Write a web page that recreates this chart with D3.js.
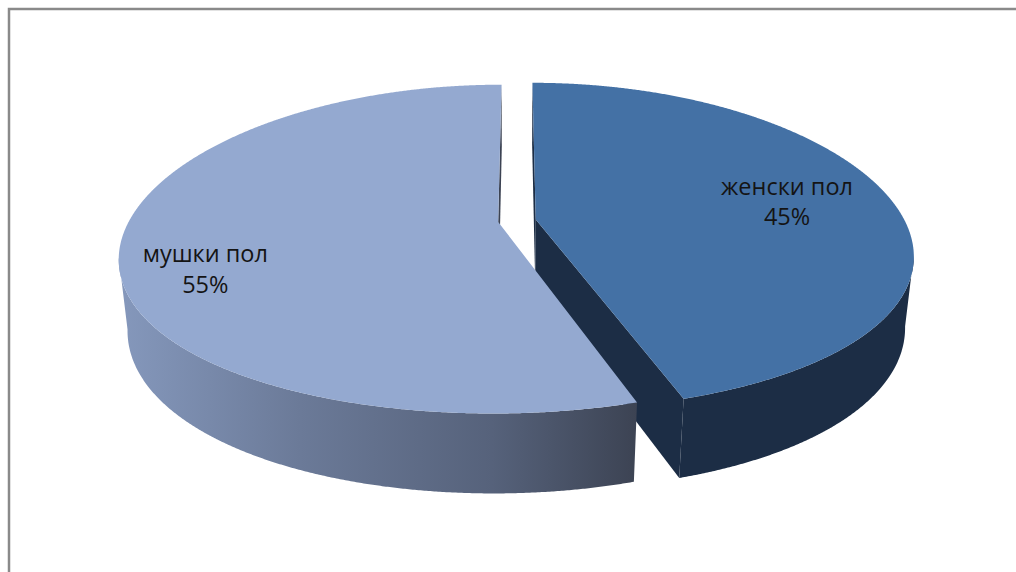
<!DOCTYPE html>
<html>
<head>
<meta charset="utf-8">
<script src="https://cdn.jsdelivr.net/npm/d3@7"></script>
<style>
  html, body { margin: 0; padding: 0; background: #ffffff; }
  svg { display: block; }
</style>
</head>
<body>
<svg id="chart" width="1016" height="572"></svg>
<script>
// Gender split shown as an exploded 3D pie
const categories = ["женски пол", "мушки пол"];
const values = [45, 55];
const percentLabels = ["45%", "55%"];

// Appearance (kept apart from the data)
const topColors = ["#4471a5", "#94a9d0"];
const sideColors = ["#1c2d45", null]; // null -> shaded gradient
const labelNudge = [[-4, 3], [-23, 32]];

const svg = d3.select("#chart");

// Frame around the chart area
svg.append("rect")
  .attr("x", 9).attr("y", 9)
  .attr("width", 1200).attr("height", 800)
  .attr("fill", "none")
  .attr("stroke", "#8a8a8a")
  .attr("stroke-width", 2.5);

// --- perspective camera for a unit-radius pie lying flat ---
const R = 1;              // pie radius (world units)
const depth = 0.211;      // thickness of the pie
const explode = 0.0515;   // offset of each slice along its mid angle
const sinP = 0.4276, cosP = Math.sqrt(1 - sinP * sinP);
const D = 5.49;           // camera distance (vertical foreshortening)
const F = 2048;           // focal length in pixels
const Dx = 4.2;           // horizontal perspective distance
const Fx = 369 * Dx;      // horizontal focal length
const cx = 517, cy = 220.7;

function project(x, y, z) {
  const yc = y * cosP + z * sinP;
  const dz = -y * sinP + z * cosP;
  return [cx + Fx * x / (Dx + dz), cy - F * yc / (D + dz)];
}
const cam = [0, D * sinP, -D * cosP];

const pie = d3.pie().sort(null).startAngle(0).endAngle(2 * Math.PI);
const arcs = pie(values);

// theta measured clockwise from the far side
const rimPoint = (o, th, y, r = R) => [o[0] + r * Math.sin(th), y, o[1] + r * Math.cos(th)];
const line = d3.line();

const slices = arcs.map((a, i) => {
  const mid = (a.startAngle + a.endAngle) / 2;
  const o = [explode * Math.sin(mid), explode * Math.cos(mid)];
  return { i, a, mid, o };
});

// draw the farther slice first
slices.sort((p, q) => q.o[1] - p.o[1]);

const defs = svg.append("defs");

// shaded side for the light slice: lighter on the left, darker to the right
function sideGradient(id, x1, x2) {
  const g = defs.append("linearGradient")
    .attr("id", id)
    .attr("gradientUnits", "userSpaceOnUse")
    .attr("x1", x1).attr("x2", x2).attr("y1", 0).attr("y2", 0);
  [[0, "#8598bc"], [0.35, "#6b7a98"], [0.72, "#56627b"], [1, "#3c4353"]]
    .forEach(([o, c]) => g.append("stop").attr("offset", o).attr("stop-color", c));
  return `url(#${id})`;
}

const gPie = svg.append("g");

slices.forEach(s => {
  const { i, a, o } = s;
  const g = gPie.append("g").attr("class", "slice");
  const step = Math.PI / 720;
  const n = Math.max(2, Math.ceil((a.endAngle - a.startAngle) / step));
  const thetas = d3.range(n + 1).map(k => a.startAngle + (a.endAngle - a.startAngle) * k / n);

  // visible stretches of the curved wall
  const facing = th => {
    const p = rimPoint(o, th, -depth / 2);
    return (cam[0] - p[0]) * Math.sin(th) + (cam[2] - p[2]) * Math.cos(th) > 0;
  };
  const runs = [];
  let cur = null;
  thetas.forEach(th => {
    if (facing(th)) { if (!cur) { cur = []; runs.push(cur); } cur.push(th); }
    else cur = null;
  });

  const wallPolys = runs.filter(r => r.length > 1).map(r => {
    const top = r.map(th => project(...rimPoint(o, th, 0)));
    const bot = r.slice().reverse().map(th => project(...rimPoint(o, th, -depth)));
    return top.concat(bot);
  });

  let sideFill = sideColors[i];
  if (!sideFill) {
    const xs = wallPolys.flat().map(p => p[0]);
    sideFill = sideGradient("side" + i, d3.min(xs), d3.max(xs));
  }

  // flat cut faces at both radial edges
  const center = y => project(o[0], y, o[1]);
  [[a.startAngle, -1], [a.endAngle, 1]].forEach(([th, sgn]) => {
    const nx = sgn * Math.cos(th), nz = -sgn * Math.sin(th);
    const pm = rimPoint(o, th, -depth / 2, R / 2);
    const vis = (cam[0] - pm[0]) * nx + (cam[2] - pm[2]) * nz > 0;
    if (!vis) return;
    const poly = [center(0), project(...rimPoint(o, th, 0)), project(...rimPoint(o, th, -depth)), center(-depth)];
    g.append("path")
      .attr("d", line(poly) + "Z")
      .attr("fill", sideColors[i] || "#3c4353");
  });

  wallPolys.forEach(poly => {
    g.append("path").attr("d", line(poly) + "Z").attr("fill", sideFill);
  });

  // top face
  const topPoly = [center(0)].concat(thetas.map(th => project(...rimPoint(o, th, 0))));
  g.append("path").attr("d", line(topPoly) + "Z").attr("fill", topColors[i]);
});

// data labels: category name and share
slices.forEach(s => {
  const { i, mid, o } = s;
  const p = project(...rimPoint(o, mid, 0, 0.72 * R));
  const x = p[0] + labelNudge[i][0], y = p[1] + labelNudge[i][1];
  const t = svg.append("text")
    .attr("text-anchor", "middle")
    .attr("font-family", "'Open Sans', 'Noto Sans', sans-serif")
    .attr("font-size", 23.5)
    .attr("fill", "#141414");
  t.append("tspan").attr("x", x).attr("y", y - 10).text(categories[i]);
  t.append("tspan").attr("x", x).attr("y", y + 20.5).text(percentLabels[i]);
});
</script>
</body>
</html>
